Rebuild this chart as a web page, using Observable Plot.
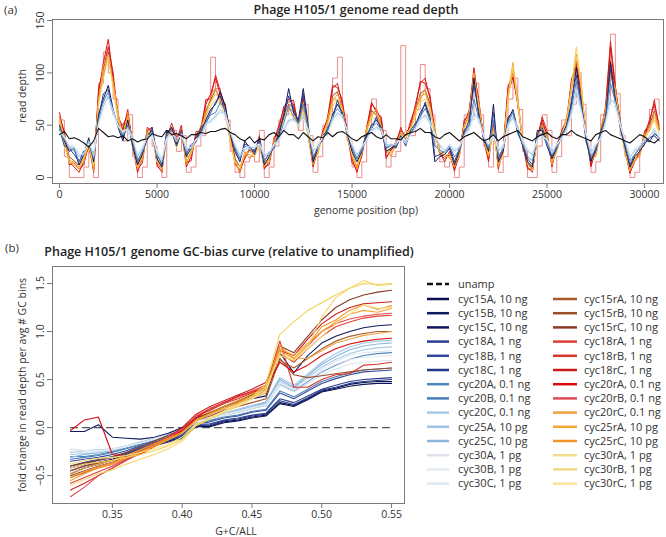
<!DOCTYPE html>
<html><head><meta charset="utf-8">
<script src="https://cdn.jsdelivr.net/npm/d3@7"></script>
<script src="https://cdn.jsdelivr.net/npm/@observablehq/plot@0.6"></script>
<style>
body{margin:0;background:#fff;font-family:"Open Sans",sans-serif;}
#root{position:relative;width:666px;height:537px;overflow:hidden;background:#fff;}
.abs{position:absolute;white-space:nowrap;color:#333;font-size:10.5px;line-height:1;}
.ttl{font-weight:600;font-size:12.5px;color:#222;}
.rot{transform:translate(-50%,-50%) rotate(-90deg);}
.ctr{transform:translate(-50%,-50%);}
svg{position:absolute;overflow:visible;}
</style></head><body><div id="root"></div>
<script>
// ---------- Panel (a): read depth along genome (250 bp bins) ----------
const binStep = 250;
const depthUnamp = [41,44,37,38, 36,33,29,35, 47,43,39,40, 38,40,35,37, 34,36,37,42, 40,39,45,41, 42,40,37,41, 41,43,42,44, 44,46,47,43, 41,37,35,39, 33,37,36,41, 43,39,45,41, 41,37,43,39, 35,39,38,43, 39,43,44,41, 37,35,39,41, 43,39,37,41, 37,37,36,41, 43,44,47,43, 43,39,37,41, 43,39,35,39, 41,43,39,35, 37,41,35,39, 41,43,45,39, 37,35,39,41, 43,39,37,41, 41,45,41,39, 37,35,41,43, 45,41,39,37, 35,33,37,41, 39,35,33,37];
const depthCyc15A = [50,35,25,28, 12,22,38,15, 60,75,88,65, 48,35,55,30, 12,22,40,45, 18,10,42,48, 32,42,20,28, 38,44,55,65, 70,82,68,42, 25,15,35,28, 25,35,12,20, 30,40,60,85, 62,55,85,50, 15,28,40,45, 60,70,62,42, 25,15,25,40, 50,55,48,25, 28,30,38,32, 42,50,62,70, 55,15,20,22, 28,12,25,45, 50,95,58,38, 25,70,15,25, 55,65,45,30, 15,10,45,45, 30,18,28,40, 50,70,105,72, 38,15,28,40, 55,110,75,50, 30,10,20,25, 32,38,40,35];
const depthCyc18A = [46,30,28,22, 15,26,32,18, 58,80,84,60, 52,38,50,34, 15,25,36,48, 22,12,45,44, 30,45,22,32, 34,48,52,62, 72,78,62,46, 28,18,32,30, 22,38,15,24, 28,44,58,78, 66,52,80,46, 18,30,36,48, 56,74,60,46, 28,18,28,42, 46,58,44,28, 32,28,40,30, 45,52,58,72, 58,20,22,25, 30,15,28,42, 55,88,62,35, 28,62,18,28, 58,62,42,32, 18,12,42,48, 34,20,30,42, 46,74,98,70, 35,18,25,44, 58,104,72,48, 28,12,22,28, 36,34,42,38];
const depthCyc20A = [48,36,28,26, 16,22,35,18, 55,72,82,64, 50,40,50,35, 16,25,40,44, 20,14,40,45, 34,42,24,28, 36,42,52,60, 62,72,64,44, 28,18,30,28, 26,34,16,22, 30,38,52,68, 58,52,70,48, 20,28,40,44, 58,66,60,44, 28,18,26,38, 48,52,46,28, 30,32,38,34, 42,50,58,66, 55,30,26,24, 30,20,26,42, 48,75,56,40, 28,55,20,28, 52,62,46,32, 20,16,40,42, 32,22,28,40, 48,66,92,68, 40,20,28,40, 54,90,72,52, 32,16,22,28, 34,40,44,38];
const depthCyc20C = [42,40,28,30, 22,22,35,20, 50,70,76,64, 48,44,46,36, 22,26,40,40, 24,18,36,44, 34,42,28,28, 37,38,52,53, 60,62,62,43, 32,20,28,28, 30,30,22,22, 32,34,47,53, 57,48,60,43, 27,28,40,40, 57,60,60,43, 32,20,30,34, 47,46,47,30, 32,31,38,32, 42,46,57,58, 54,40,32,24, 32,24,30,38, 47,60,57,38, 32,40,27,28, 52,56,50,33, 27,20,37,38, 37,23,32,36, 47,60,84,63, 42,23,32,36, 54,73,72,50, 37,18,27,28, 37,38,47,38];
const depthCyc25A = [45,38,30,28, 20,24,33,22, 52,68,78,62, 50,42,48,38, 20,28,38,42, 22,16,38,42, 36,40,26,30, 35,40,50,55, 58,65,60,45, 30,22,26,30, 28,32,20,24, 30,36,45,55, 55,50,58,45, 25,30,38,42, 55,62,58,45, 30,22,28,36, 45,48,45,32, 30,33,36,34, 40,48,55,60, 52,42,30,26, 30,26,28,40, 45,62,55,40, 30,42,25,30, 50,58,48,35, 25,22,35,40, 35,25,30,38, 45,62,82,65, 40,25,30,38, 52,75,70,52, 35,20,25,30, 35,40,45,40];
const depthCyc30A = [44,38,32,30, 24,26,32,26, 50,64,72,60, 50,44,46,40, 24,30,38,40, 25,20,38,42, 38,40,30,32, 36,40,48,52, 56,62,58,46, 32,26,28,30, 30,32,24,26, 32,36,44,52, 54,50,56,46, 28,32,38,42, 52,58,56,46, 32,26,30,36, 44,46,44,34, 32,34,36,36, 40,46,52,56, 50,42,32,28, 32,28,30,40, 44,58,52,40, 32,42,28,32, 48,55,46,36, 28,25,35,40, 36,28,32,38, 44,58,76,62, 42,28,32,38, 50,70,66,50, 36,24,28,32, 36,40,44,40];
const depthCyc15rC = [54,38,20,16, 10,20,28,12, 76,96,120,90, 58,46,58,36, 12,22,40,46, 16,10,40,46, 34,44,18,24, 40,46,64,74, 84,76,66,42, 18,10,22,26, 24,36,12,18, 34,46,60,70, 66,50,72,44, 16,26,42,52, 78,82,66,44, 20,10,24,44, 64,60,52,24, 26,32,42,40, 50,64,80,84, 70,44,24,20, 22,12,22,50, 58,96,68,38, 22,48,14,26, 80,96,70,36, 14,8,38,52, 40,14,28,44, 54,86,108,82, 40,16,24,44, 64,112,84,52, 24,8,18,24, 40,50,64,46];
const depthCyc18rC = [58,44,12,14, 8,12,34,5, 85,104,125,100, 56,50,60,34, 8,14,48,44, 14,8,38,52, 38,46,14,16, 44,44,74,76, 98,82,66,44, 12,8,18,28, 26,36,10,12, 38,46,68,72, 74,48,78,42, 10,28,42,58, 88,86,74,42, 14,8,20,48, 72,62,58,18, 28,32,48,36, 54,66,92,90, 78,42,24,15, 25,6,24,52, 64,100,74,36, 15,54,8,28, 88,96,74,32, 8,8,36,58, 44,10,32,42, 52,94,106,84, 44,10,28,42, 68,130,88,52, 28,4,18,22, 44,52,74,46];
const depthCyc20rA = [62,40,15,10, 5,15,30,8, 80,110,132,95, 60,45,65,30, 5,18,45,48, 12,5,42,48, 35,50,10,20, 40,48,70,80, 95,78,70,40, 15,5,20,25, 22,40,8,15, 35,50,65,75, 70,52,75,45, 12,25,45,55, 85,90,70,45, 18,5,22,45, 70,65,55,20, 25,35,45,40, 50,70,90,95, 75,45,22,18, 22,8,20,55, 60,105,70,40, 18,50,10,25, 85,100,70,35, 10,5,40,55, 40,12,28,45, 55,90,110,80, 40,12,25,45, 65,125,85,55, 25,5,15,25, 40,55,70,50];
const depthCyc25rA = [58,35,18,12, 8,18,32,10, 75,100,118,88, 58,42,58,32, 8,20,42,45, 15,8,40,46, 30,45,15,22, 38,45,62,72, 80,75,65,38, 12,8,22,22, 20,32,10,18, 32,45,58,68, 62,50,68,42, 15,22,42,52, 72,80,65,42, 20,8,25,45, 62,60,50,25, 22,30,42,40, 48,62,78,80, 68,42,25,20, 20,10,22,50, 58,100,68,38, 20,45,12,22, 80,110,72,38, 12,8,38,50, 38,15,25,42, 55,88,118,85, 38,15,22,42, 62,105,82,52, 22,8,15,22, 38,48,58,45];
const depthCyc25rC = [52,40,14,16, 12,14,36,6, 70,108,112,92, 62,38,62,28, 10,16,46,40, 18,6,44,42, 34,42,12,26, 34,50,58,78, 86,70,68,34, 16,6,25,18, 24,28,14,14, 36,42,62,64, 66,46,72,38, 12,26,38,56, 76,74,68,38, 24,10,22,48, 58,66,46,28, 20,34,38,44, 44,66,74,84, 64,46,22,24, 18,14,20,46, 62,92,72,34, 24,48,10,26, 76,104,76,34, 14,6,42,46, 42,12,28,38, 58,82,112,90, 34,18,20,46, 66,98,86,48, 26,6,18,20, 42,44,62,48];
const depthCyc30rA = [55,30,14,14, 10,20,30,12, 70,95,115,85, 55,40,55,30, 10,22,38,42, 15,10,38,44, 28,42,18,25, 35,42,58,68, 75,70,60,35, 15,10,22,25, 22,30,12,20, 30,42,55,62, 58,48,62,40, 18,25,40,50, 68,75,62,40, 22,12,25,42, 58,55,48,25, 25,30,40,38, 45,58,72,75, 65,40,25,22, 22,12,25,48, 55,95,65,38, 22,42,15,25, 75,105,70,35, 15,10,35,48, 35,18,28,42, 52,85,125,88, 40,18,25,40, 60,100,80,50, 25,10,18,25, 36,45,55,42];
const depthCyc20rB = [55,20,0,0, 0,10,25,0, 90,120,100,75, 50,35,60,20, 0,10,45,30, 10,0,40,45, 25,40,5,10, 30,40,75,115, 85,70,55,25, 5,0,15,20, 15,45,0,10, 30,55,60,70, 55,45,70,40, 5,20,50,60, 95,115,60,35, 10,0,15,50, 75,55,45,10, 20,25,126,45, 40,65,108,85, 60,30,15,10, 15,0,10,60, 55,90,60,30, 10,35,5,20, 75,95,65,25, 0,0,30,60, 45,5,20,55, 40,70,100,70, 35,5,15,60, 70,137,80,40, 20,0,5,30, 45,65,75,60];
const posTicks = [0,5000,10000,15000,20000,25000,30000];
const depthTicks = [0,50,100,150];

// ---------- Panel (b): GC-bias curves ----------
const gcBins = [0.32,0.33,0.34,0.35,0.36,0.37,0.38,0.39,0.40,0.41,0.42,0.43,0.44,0.45,0.46,0.47,0.48,0.49,0.50,0.51,0.52,0.53,0.54,0.55];
const gcUnamp   = [0,0,0,0,0,0,0,0,0,0,0,0,0,0,0,0,0,0,0,0,0,0,0,0];
const gcCyc15A  = [-0.45,-0.40,-0.36,-0.33,-0.28,-0.23,-0.18,-0.14,-0.10,0.02,0.02,0.06,0.08,0.11,0.13,0.26,0.23,0.30,0.38,0.41,0.45,0.47,0.48,0.48];
const gcCyc15B  = [-0.04,-0.04,0.03,-0.10,-0.11,-0.12,-0.10,-0.06,0.00,0.10,0.15,0.22,0.27,0.30,0.33,0.78,0.57,0.75,0.88,0.95,1.00,1.04,1.06,1.07];
const gcCyc15C  = [-0.48,-0.42,-0.38,-0.34,-0.29,-0.24,-0.19,-0.15,-0.11,0.01,0.01,0.05,0.07,0.10,0.12,0.25,0.22,0.29,0.37,0.40,0.43,0.45,0.46,0.46];
const gcCyc18A  = [-0.40,-0.36,-0.33,-0.30,-0.26,-0.21,-0.16,-0.12,-0.08,0.03,0.04,0.08,0.10,0.13,0.15,0.30,0.26,0.33,0.40,0.44,0.48,0.50,0.51,0.52];
const gcCyc18B  = [-0.35,-0.33,-0.31,-0.28,-0.24,-0.19,-0.15,-0.11,-0.07,0.04,0.06,0.10,0.12,0.16,0.18,0.36,0.30,0.38,0.46,0.51,0.55,0.58,0.59,0.60];
const gcCyc18C  = [-0.42,-0.38,-0.34,-0.31,-0.27,-0.22,-0.17,-0.13,-0.09,0.02,0.03,0.07,0.09,0.12,0.14,0.28,0.24,0.31,0.39,0.42,0.46,0.48,0.49,0.50];
const gcCyc20A  = [-0.30,-0.30,-0.28,-0.25,-0.21,-0.17,-0.13,-0.09,-0.05,0.06,0.08,0.13,0.16,0.20,0.23,0.45,0.38,0.48,0.58,0.65,0.71,0.75,0.77,0.78];
const gcCyc20B  = [-0.33,-0.31,-0.29,-0.26,-0.22,-0.18,-0.14,-0.10,-0.06,0.05,0.07,0.11,0.13,0.17,0.19,0.38,0.32,0.40,0.48,0.53,0.57,0.60,0.61,0.62];
const gcCyc20C  = [-0.28,-0.27,-0.26,-0.24,-0.20,-0.16,-0.12,-0.08,-0.04,0.07,0.09,0.14,0.17,0.21,0.25,0.48,0.41,0.52,0.63,0.71,0.77,0.81,0.83,0.84];
const gcCyc25A  = [-0.26,-0.24,-0.23,-0.22,-0.19,-0.15,-0.11,-0.07,-0.03,0.08,0.10,0.15,0.19,0.23,0.27,0.52,0.44,0.56,0.68,0.77,0.84,0.88,0.90,0.91];
const gcCyc25C  = [-0.31,-0.28,-0.26,-0.24,-0.20,-0.16,-0.12,-0.08,-0.04,0.07,0.10,0.14,0.18,0.22,0.26,0.50,0.42,0.54,0.66,0.74,0.81,0.85,0.87,0.88];
const gcCyc30A  = [-0.22,-0.24,-0.24,-0.22,-0.19,-0.16,-0.12,-0.08,-0.04,0.06,0.09,0.13,0.16,0.20,0.23,0.44,0.37,0.46,0.55,0.61,0.66,0.68,0.69,0.70];
const gcCyc30B  = [-0.25,-0.26,-0.25,-0.23,-0.20,-0.16,-0.12,-0.08,-0.04,0.06,0.09,0.13,0.17,0.21,0.24,0.46,0.39,0.49,0.59,0.66,0.71,0.73,0.74,0.75];
const gcCyc30C  = [-0.23,-0.24,-0.24,-0.23,-0.20,-0.16,-0.12,-0.08,-0.04,0.07,0.09,0.14,0.17,0.21,0.24,0.47,0.40,0.51,0.61,0.69,0.75,0.78,0.79,0.80];
const gcCyc15rA = [-0.50,-0.45,-0.40,-0.36,-0.30,-0.24,-0.17,-0.10,-0.03,0.10,0.16,0.22,0.27,0.32,0.38,0.70,0.62,0.72,0.82,0.90,0.95,0.98,1.00,1.00];
const gcCyc15rB = [-0.45,-0.40,-0.37,-0.34,-0.29,-0.23,-0.16,-0.10,-0.04,0.08,0.12,0.18,0.22,0.26,0.30,0.72,0.55,0.52,0.54,0.56,0.58,0.60,0.61,0.62];
const gcCyc15rC = [-0.40,-0.37,-0.34,-0.31,-0.26,-0.20,-0.14,-0.08,-0.02,0.10,0.15,0.22,0.28,0.34,0.42,0.85,0.78,0.95,1.12,1.25,1.33,1.38,1.41,1.43];
const gcCyc18rA = [-0.58,-0.52,-0.46,-0.40,-0.33,-0.26,-0.18,-0.10,-0.02,0.12,0.18,0.26,0.32,0.38,0.44,0.78,0.68,0.82,0.95,1.05,1.10,1.14,1.16,1.17];
const gcCyc18rB = [-0.52,-0.47,-0.42,-0.38,-0.32,-0.25,-0.17,-0.10,-0.02,0.12,0.18,0.25,0.30,0.36,0.42,0.90,0.42,0.42,0.50,0.55,0.56,0.65,0.66,0.68];
const gcCyc18rC = [-0.65,-0.58,-0.50,-0.42,-0.34,-0.26,-0.18,-0.10,0.00,0.14,0.22,0.28,0.34,0.40,0.47,0.80,0.75,0.92,1.08,1.18,1.25,1.29,1.30,1.31];
const gcCyc20rA = [-0.03,0.08,0.11,-0.28,-0.30,-0.28,-0.20,-0.12,-0.03,0.10,0.20,0.26,0.33,0.37,0.40,0.68,0.58,0.65,0.75,0.82,0.87,0.90,0.92,0.93];
const gcCyc20rB = [-0.72,-0.62,-0.50,-0.42,-0.34,-0.27,-0.18,-0.10,-0.02,0.12,0.20,0.25,0.32,0.37,0.44,0.75,0.70,0.85,1.00,1.08,1.13,1.16,1.18,1.19];
const gcCyc20rC = [-0.48,-0.42,-0.38,-0.34,-0.29,-0.23,-0.17,-0.11,-0.05,0.08,0.14,0.20,0.25,0.30,0.36,0.80,0.72,0.72,0.80,0.88,0.92,0.96,0.98,1.00];
const gcCyc25rA = [-0.55,-0.48,-0.42,-0.38,-0.32,-0.26,-0.20,-0.13,-0.06,0.07,0.14,0.20,0.26,0.32,0.40,0.82,0.75,0.88,1.00,1.10,1.18,1.22,1.20,1.24];
const gcCyc25rC = [-0.52,-0.46,-0.41,-0.37,-0.31,-0.25,-0.19,-0.12,-0.05,0.08,0.15,0.22,0.28,0.35,0.42,0.85,0.72,0.86,1.05,1.12,1.22,1.28,1.23,1.27];
const gcCyc30rA = [-0.42,-0.38,-0.36,-0.34,-0.31,-0.28,-0.24,-0.19,-0.12,0.03,0.10,0.17,0.24,0.32,0.45,0.97,1.10,1.22,1.30,1.38,1.45,1.50,1.49,1.50];
const gcCyc30rB = [-0.60,-0.54,-0.48,-0.44,-0.38,-0.33,-0.28,-0.22,-0.14,0.02,0.09,0.16,0.22,0.30,0.42,0.75,0.70,0.85,1.15,1.35,1.45,1.53,1.48,1.49];
const gcCyc30rC = [-0.38,-0.34,-0.32,-0.31,-0.29,-0.26,-0.22,-0.17,-0.10,0.04,0.10,0.17,0.23,0.30,0.38,0.78,0.70,0.82,0.95,1.08,1.18,1.28,1.24,1.25];
const gcXTicks = [0.35,0.40,0.45,0.50,0.55];
const gcYTicks = [-0.5,0.0,0.5,1.0,1.5];

// ---------- Legend ----------
const legendLeft  = ["cyc15A, 10 ng","cyc15B, 10 ng","cyc15C, 10 ng","cyc18A, 1 ng","cyc18B, 1 ng","cyc18C, 1 ng","cyc20A, 0.1 ng","cyc20B, 0.1 ng","cyc20C, 0.1 ng","cyc25A, 10 pg","cyc25C, 10 pg","cyc30A, 1 pg","cyc30B, 1 pg","cyc30C, 1 pg"];
const legendRight = ["cyc15rA, 10 ng","cyc15rB, 10 ng","cyc15rC, 10 ng","cyc18rA, 1 ng","cyc18rB, 1 ng","cyc18rC, 1 ng","cyc20rA, 0.1 ng","cyc20rB, 0.1 ng","cyc20rC, 0.1 ng","cyc25rA, 10 pg","cyc25rC, 10 pg","cyc30rA, 1 pg","cyc30rB, 1 pg","cyc30rC, 1 pg"];
const colorsLeft  = ["#0b0e50","#121a60","#0e1658","#2b3d8c","#34489a","#22378a","#4f86c0","#4a7eb8","#a6cbe8","#9dc4e4","#8db6dc","#dde3e9","#e3e9ef","#dce8f3"];
const colorsRight = ["#a65a2c","#9c4e28","#8c3a24","#de3e36","#d8352a","#cc1a1a","#d80a0a","#e04a52","#f0a040","#f4a634","#f09628","#f3dc8c","#f5d884","#f8e39a"];
const gcLeft  = [gcCyc15A,gcCyc15B,gcCyc15C,gcCyc18A,gcCyc18B,gcCyc18C,gcCyc20A,gcCyc20B,gcCyc20C,gcCyc25A,gcCyc25C,gcCyc30A,gcCyc30B,gcCyc30C];
const gcRight = [gcCyc15rA,gcCyc15rB,gcCyc15rC,gcCyc18rA,gcCyc18rB,gcCyc18rC,gcCyc20rA,gcCyc20rB,gcCyc20rC,gcCyc25rA,gcCyc25rC,gcCyc30rA,gcCyc30rB,gcCyc30rC];
// yellow lines drawn in the curve panel are a little stronger than their legend swatches
const lineColorOverride = {"cyc30rA, 1 pg":"#f5cf55","cyc30rB, 1 pg":"#f6d86e","cyc30rC, 1 pg":"#f8df86"};

const root = document.getElementById("root");
const FONT = "'Open Sans', sans-serif";

function addText(txt, x, y, cls) {
  const d = document.createElement("div");
  d.className = "abs " + (cls || "");
  d.textContent = txt;
  d.style.left = x + "px"; d.style.top = y + "px";
  root.appendChild(d);
  return d;
}

// ---- Panel (a) ----
const depthSeries = [
  {name:"cyc20rB", color:"#ea8080", vals: depthCyc20rB, step:true, w:0.9},
  {name:"cyc15rC", color:"#9a4a2a", vals: depthCyc15rC},
  {name:"cyc18rC", color:"#d42020", vals: depthCyc18rC},
  {name:"cyc20rA", color:"#e01010", vals: depthCyc20rA},
  {name:"cyc25rC", color:"#f09628", vals: depthCyc25rC},
  {name:"cyc25rA", color:"#f6ac38", vals: depthCyc25rA},
  {name:"cyc30rA", color:"#f5cf55", vals: depthCyc30rA},
  {name:"cyc15A",  color:"#10145a", vals: depthCyc15A},
  {name:"cyc18A",  color:"#2b3d8c", vals: depthCyc18A},
  {name:"cyc20A",  color:"#4f86c0", vals: depthCyc20A},
  {name:"cyc25A",  color:"#9dc4e4", vals: depthCyc25A},
  {name:"cyc20C",  color:"#b8d6ee", vals: depthCyc20C},
  {name:"cyc30A",  color:"#eaf1f8", vals: depthCyc30A},
  {name:"unamp",   color:"#111111", vals: depthUnamp, w:1.1}
];
const depthRows = s => s.vals.map((v, i) => ({pos: i * binStep, depth: v}));

const plotA = Plot.plot({
  width: 666, height: 220,
  marginLeft: 52, marginRight: 3, marginTop: 19, marginBottom: 37,
  x: {domain: [-360, 30970]},
  y: {domain: [-5.7, 151]},
  style: {fontFamily: FONT, fontSize: "10.5px", color: "#333", background: "transparent"},
  marks: [
    ...depthSeries.map(s => Plot.line(depthRows(s), {x: "pos", y: "depth", stroke: s.color, strokeWidth: s.w || 1, curve: s.step ? "step-after" : "linear"})),
    Plot.frame({stroke: "#7a7a7a"}),
    Plot.axisX({ticks: posTicks, tickSize: 5, tickPadding: 2, label: null, tickFormat: d => String(d), stroke: "#7a7a7a"}),
    Plot.axisY({ticks: depthTicks, tickSize: 5, tickRotate: -90, label: null, stroke: "#7a7a7a"})
  ]
});
plotA.style.left = "0px"; plotA.style.top = "0px";
root.appendChild(plotA);
addText("(a)", 4, 4, "").style.fontSize = "11.5px";
addText("Phage H105/1 genome read depth", 356, 10, "ttl ctr");
addText("read depth", 22, 96, "rot");
addText("genome position (bp)", 366, 210, "ctr");

// ---- Panel (b) ----
const gcRows = [];
gcLeft.forEach((arr, k) => arr.forEach((v, i) => gcRows.push({gc: gcBins[i], v, id: legendLeft[k]})));
gcRight.forEach((arr, k) => arr.forEach((v, i) => gcRows.push({gc: gcBins[i], v, id: legendRight[k]})));
const colorDomain = [...legendLeft, ...legendRight];
const colorRange = [...colorsLeft, ...colorsRight.map((c, k) => lineColorOverride[legendRight[k]] || c)];
const unampRows = gcUnamp.map((v, i) => ({gc: gcBins[i], v}));

const plotB = Plot.plot({
  width: 410, height: 280,
  marginLeft: 52, marginRight: 6, marginTop: 8, marginBottom: 35,
  x: {domain: [0.3071, 0.5593]},
  y: {domain: [-0.79, 1.677]},
  color: {domain: colorDomain, range: colorRange},
  style: {fontFamily: FONT, fontSize: "10.5px", color: "#333", background: "transparent"},
  marks: [
    Plot.line(unampRows, {x: "gc", y: "v", stroke: "#555", strokeWidth: 1.2, strokeDasharray: "7,5"}),
    Plot.line(gcRows, {x: "gc", y: "v", z: "id", stroke: "id", strokeWidth: 1.1}),
    Plot.frame({stroke: "#7a7a7a"}),
    Plot.axisX({ticks: gcXTicks, tickSize: 5, tickPadding: 2, label: null, tickFormat: d3.format(".2f"), stroke: "#7a7a7a"}),
    Plot.axisY({ticks: gcYTicks, tickSize: 5, tickRotate: -90, label: null, tickFormat: d3.format(".1f"), stroke: "#7a7a7a"})
  ]
});
plotB.style.left = "0px"; plotB.style.top = "258px";
root.appendChild(plotB);
addText("(b)", 5, 242, "").style.fontSize = "11.5px";
addText("Phage H105/1 genome GC-bias curve (relative to unamplified)", 229, 252, "ttl ctr");
addText("fold change in read depth per avg # GC bins", 22, 385, "rot");
addText("G+C/ALL", 236, 531, "ctr");

// ---- Legend ----
const leg = d3.create("svg").attr("width", 256).attr("height", 230)
  .style("left", "410px").style("top", "270px")
  .attr("font-family", FONT).attr("font-size", "11px").attr("fill", "#333");
const rowY = i => 29 + i * 14.2;
leg.append("line").attr("x1", 17).attr("x2", 39).attr("y1", 14).attr("y2", 14)
  .attr("stroke", "#111").attr("stroke-width", 2.5).attr("stroke-dasharray", "6,3");
leg.append("text").attr("x", 48).attr("y", 14).attr("dy", "0.35em").text("unamp");
legendLeft.forEach((t, i) => {
  leg.append("line").attr("x1", 17).attr("x2", 39).attr("y1", rowY(i)).attr("y2", rowY(i))
    .attr("stroke", colorsLeft[i]).attr("stroke-width", 2.5);
  leg.append("text").attr("x", 48).attr("y", rowY(i)).attr("dy", "0.35em").text(t);
});
legendRight.forEach((t, i) => {
  leg.append("line").attr("x1", 143).attr("x2", 167).attr("y1", rowY(i)).attr("y2", rowY(i))
    .attr("stroke", colorsRight[i]).attr("stroke-width", 2.5);
  leg.append("text").attr("x", 174).attr("y", rowY(i)).attr("dy", "0.35em").text(t);
});
root.appendChild(leg.node());
</script></body></html>
